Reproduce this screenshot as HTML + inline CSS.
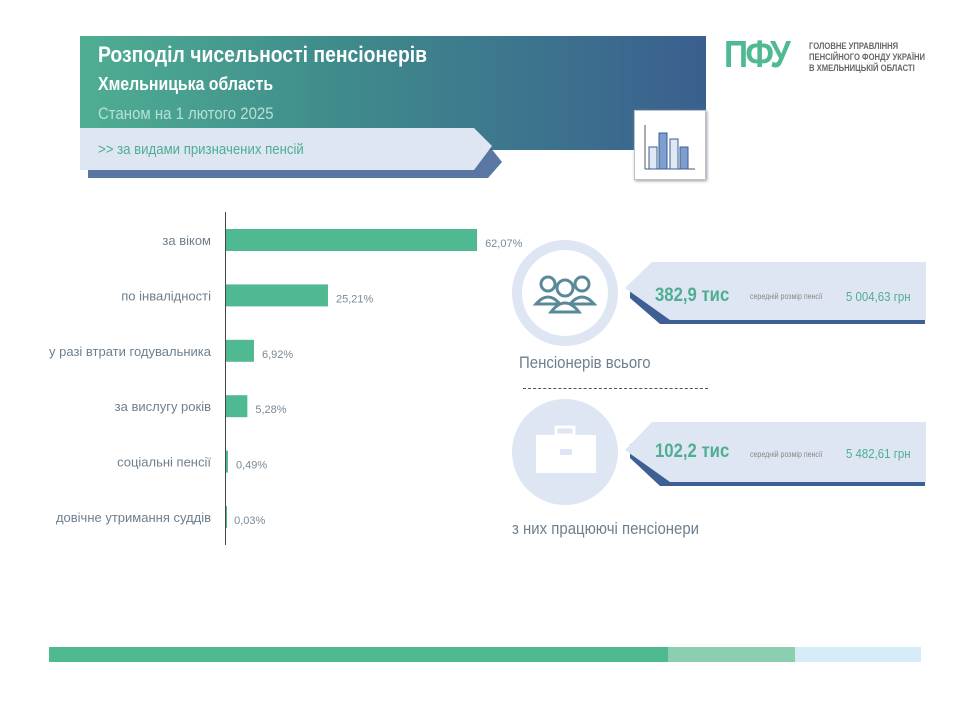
<!DOCTYPE html>
<html><head><meta charset="utf-8">
<style>
body{margin:0;width:960px;height:720px;background:#fff;position:relative;overflow:hidden;font-family:"Liberation Sans","DejaVu Sans",sans-serif;}
.abs{position:absolute;white-space:nowrap;}
.n{transform:scaleX(0.88);transform-origin:left top;}
</style></head><body>
<div class="abs" style="left:80px;top:36px;width:626px;height:114px;background:linear-gradient(90deg,#4fae92 0%,#3f8c8c 40%,#3a5f8e 100%);"></div>
<div class="abs n" style="left:98px;top:42px;color:#fff;font-size:22px;font-weight:bold;">Розподіл чисельності пенсіонерів</div>
<div class="abs n" style="left:98px;top:74px;color:#fff;font-size:18px;font-weight:bold;">Хмельницька область</div>
<div class="abs n" style="left:98px;top:104px;color:#b8e0d6;font-size:17px;">Станом на 1 лютого 2025</div>
<svg class="abs" style="left:78px;top:126px" width="430" height="56">
<polygon points="10,16 408,16 424,36 410,52 10,52" fill="#3d5f93" opacity="0.85"/>
<polygon points="2,2 396,2 414,20 396,44 2,44" fill="#dde6f2"/>
</svg>
<div class="abs n" style="left:98px;top:141px;color:#4fae92;font-size:15px;">&gt;&gt; за видами призначених пенсій</div>
<div class="abs" style="left:634px;top:110px;width:70px;height:68px;background:#fff;border:1px solid #b9c3cf;box-shadow:1px 1px 3px #999;">
<svg width="70" height="68"><line x1="10" y1="14" x2="10" y2="58" stroke="#555"/><line x1="10" y1="58" x2="60" y2="58" stroke="#555"/>
<rect x="14" y="36" width="8" height="22" fill="#dfe8f4" stroke="#3a5f8e"/><rect x="24" y="22" width="8" height="36" fill="#7f9ed0" stroke="#3a5f8e"/><rect x="35" y="28" width="8" height="30" fill="#dfe8f4" stroke="#3a5f8e"/><rect x="45" y="36" width="8" height="22" fill="#7f9ed0" stroke="#3a5f8e"/></svg></div>
<div class="abs n" style="left:724px;top:34px;color:#4fba91;font-size:38px;font-weight:bold;letter-spacing:-3px;">ПФУ</div>
<div class="abs" style="left:809px;top:41px;color:#666;font-size:9px;font-weight:bold;line-height:11px;transform:scaleX(0.85);transform-origin:left top;">ГОЛОВНЕ УПРАВЛІННЯ<br>ПЕНСІЙНОГО ФОНДУ УКРАЇНИ<br>В ХМЕЛЬНИЦЬКІЙ ОБЛАСТІ</div>

<svg class="abs" style="left:0;top:0" width="560" height="560" id="chart"></svg>

<div class="abs" style="left:512px;top:240px;width:106px;height:106px;border-radius:50%;background:#dde6f2;"><div style="position:absolute;left:10px;top:10px;width:86px;height:86px;border-radius:50%;background:#fff;"></div>
<svg class="abs" style="left:20px;top:30px" width="66" height="46"><g fill="#fff" stroke="#5a8a9a" stroke-width="3"><circle cx="16" cy="14" r="7"/><circle cx="50" cy="14" r="7"/><path d="M4 34 q12 -14 24 0z"/><path d="M38 34 q12 -14 24 0z"/><circle cx="33" cy="18" r="8"/><path d="M19 42 q14 -18 28 0z"/></g></svg></div>
<svg class="abs" style="left:620px;top:258px" width="310" height="72">
<polygon points="10,26 305,26 305,66 40,66 10,40" fill="#3d5f93"/>
<polygon points="32,4 306,4 306,62 50,62 5,30" fill="#dde6f2"/></svg>
<div class="abs n" style="left:655px;top:285px;color:#4fae92;font-size:19px;font-weight:bold;">382,9 тис</div>
<div class="abs n" style="left:750px;top:292px;color:#888;font-size:8px;">середній розмір пенсії</div>
<div class="abs n" style="left:846px;top:289px;color:#4fae92;font-size:13px;">5 004,63 грн</div>
<div class="abs n" style="left:519px;top:353px;color:#6d7f8e;font-size:17px;">Пенсіонерів всього</div>
<div class="abs" style="left:523px;top:388px;width:185px;border-top:1px dashed #555;"></div>
<div class="abs" style="left:512px;top:399px;width:106px;height:106px;border-radius:50%;background:#dde6f2;">
<svg class="abs" style="left:22px;top:22px" width="66" height="60"><rect x="22" y="6" width="18" height="8" fill="none" stroke="#fff" stroke-width="3"/><rect x="2" y="14" width="60" height="38" fill="#fff"/><rect x="26" y="28" width="12" height="6" fill="#dde6f2"/></svg></div>
<svg class="abs" style="left:620px;top:418px" width="310" height="72">
<polygon points="10,26 305,26 305,68 40,68 10,40" fill="#3d5f93"/>
<polygon points="32,4 306,4 306,64 50,64 5,32" fill="#dde6f2"/></svg>
<div class="abs n" style="left:655px;top:441px;color:#4fae92;font-size:19px;font-weight:bold;">102,2 тис</div>
<div class="abs n" style="left:750px;top:450px;color:#888;font-size:8px;">середній розмір пенсії</div>
<div class="abs n" style="left:846px;top:446px;color:#4fae92;font-size:13px;">5 482,61 грн</div>
<div class="abs n" style="left:512px;top:519px;color:#6d7f8e;font-size:17px;">з них працюючі пенсіонери</div>

<div class="abs" style="left:49px;top:647px;width:619px;height:15px;background:#4fba91;"></div>
<div class="abs" style="left:668px;top:647px;width:127px;height:15px;background:#8ccfb0;"></div>
<div class="abs" style="left:795px;top:647px;width:126px;height:15px;background:#d6ecf8;"></div>

<script>
const categories=["за віком","по інвалідності","у разі втрати годувальника","за вислугу років","соціальні пенсії","довічне утримання суддів"];
const values=[62.07,25.21,6.92,5.28,0.49,0.03];
const valueLabels=["62,07%","25,21%","6,92%","5,28%","0,49%","0,03%"];
const svg=document.getElementById('chart');
const NS='http://www.w3.org/2000/svg';
const x0=226, pxPer=4.045;
const xS=v=>x0+v*pxPer;
const yS=i=>240+i*55.4;
function mk(t,a){const e=document.createElementNS(NS,t);for(const k in a)e.setAttribute(k,a[k]);svg.appendChild(e);return e;}
categories.forEach((c,i)=>{
 const y=yS(i);
 const r=mk('rect',{x:x0,y:y-11,width:Math.max(1,xS(values[i])-x0),height:22,fill:'#4fba91'});
 
 
 const l=mk('text',{x:211,y:y+5,'text-anchor':'end','font-size':13,fill:'#6d7f8e','textLength':0});
 l.removeAttribute('textLength');
 l.textContent=c;
 
 
 const v=mk('text',{x:xS(values[i])+8,y:y+7,'font-size':11,fill:'#7a8a96'});
 v.textContent=valueLabels[i];
 
 
});
const ax=mk('line',{x1:225.5,y1:212,x2:225.5,y2:545,stroke:'#444'});


</script>
</body></html>
